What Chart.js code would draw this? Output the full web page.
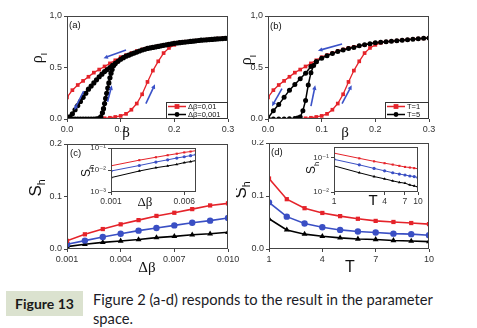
<!DOCTYPE html>
<html>
<head>
<meta charset="utf-8">
<script src="https://cdn.jsdelivr.net/npm/chart.js@4.4.1/dist/chart.umd.min.js"></script>
<style>
  body { margin: 0; background: #fff; width: 477px; height: 328px; position: relative; overflow: hidden; }
  canvas { position: absolute; }
  #figBox { position: absolute; left: 6px; top: 291px; width: 77px; height: 25px; background: #dbe2cf;
    font: bold 14px 'Lato', sans-serif; color: #1a1a1a; text-align: center; line-height: 25px; }
  #caption { position: absolute; left: 93px; top: 290px; font: 14.7px 'Lato', sans-serif; line-height: 18.5px; color: #1b1b26; }
</style>
</head>
<body>
<canvas id="chartA" width="236" height="140" style="left:0;top:0"></canvas>
<canvas id="chartB" width="241" height="140" style="left:236px;top:0"></canvas>
<canvas id="chartC" width="245" height="135" style="left:0;top:140px"></canvas>
<canvas id="chartD" width="241" height="135" style="left:236px;top:140px"></canvas>
<canvas id="insetC" width="120" height="65" style="left:80px;top:145px"></canvas>
<canvas id="insetD" width="125" height="65" style="left:300px;top:144px"></canvas>
<div id="figBox">Figure 13</div>
<div id="caption">Figure 2 (a-d) responds to the result in the parameter<br>space.</div>
<script>
// ---- data ----
const beta = [0, 0.01, 0.02, 0.03, 0.04, 0.05, 0.06, 0.07, 0.08, 0.09, 0.1, 0.11, 0.12, 0.13, 0.14, 0.15,
  0.16, 0.17, 0.18, 0.19, 0.2, 0.21, 0.22, 0.23, 0.24, 0.25, 0.26, 0.27, 0.28, 0.29, 0.3];
// red, dBeta = 0.01 / T = 1 : decreasing branch and increasing branch
const rhoRedDown = [0.21, 0.28, 0.33, 0.37, 0.41, 0.45, 0.48, 0.51, 0.54, 0.57, 0.6, 0.62, 0.64, 0.66, 0.675, 0.69,
  0.7, 0.71, 0.72, 0.73, 0.74, 0.745, 0.75, 0.755, 0.76, 0.765, 0.77, 0.775, 0.78, 0.783, 0.786];
const betaRedUp = [0.05, 0.06, 0.07, 0.08, 0.09, 0.1, 0.11, 0.12, 0.13, 0.14, 0.15, 0.16, 0.17, 0.18, 0.19, 0.2, 0.21];
const rhoRedUp = [0, 0.003, 0.007, 0.012, 0.02, 0.03, 0.05, 0.09, 0.15, 0.24, 0.36, 0.47, 0.56, 0.64, 0.69, 0.72, 0.74];

// black, dBeta = 0.001
const betaFine = [0, 0.005, 0.01, 0.015, 0.02, 0.025, 0.03, 0.035, 0.04, 0.045, 0.05, 0.055, 0.06, 0.065, 0.07, 0.075,
  0.08, 0.085, 0.09, 0.095, 0.1, 0.105, 0.11, 0.115, 0.12, 0.125, 0.13, 0.135, 0.14, 0.145, 0.15, 0.155, 0.16, 0.165,
  0.17, 0.175, 0.18, 0.185, 0.19, 0.195, 0.2, 0.205, 0.21, 0.215, 0.22, 0.225, 0.23, 0.235, 0.24, 0.245, 0.25, 0.255,
  0.26, 0.265, 0.27, 0.275, 0.28, 0.285, 0.29, 0.295, 0.3];
const rhoFineDown = [0, 0.02, 0.05, 0.09, 0.13, 0.17, 0.21, 0.25, 0.29, 0.32, 0.35, 0.38, 0.41, 0.435, 0.46, 0.48,
  0.5, 0.52, 0.54, 0.56, 0.58, 0.595, 0.61, 0.62, 0.63, 0.64, 0.65, 0.66, 0.67, 0.677, 0.685, 0.69, 0.695, 0.7,
  0.705, 0.71, 0.715, 0.72, 0.725, 0.73, 0.735, 0.738, 0.741, 0.744, 0.747, 0.75, 0.753, 0.756, 0.759, 0.762, 0.765, 0.767,
  0.769, 0.771, 0.773, 0.775, 0.777, 0.779, 0.781, 0.783, 0.785];
const betaFineUp = [0, 0.005, 0.01, 0.015, 0.02, 0.025, 0.03, 0.035, 0.04, 0.045, 0.05, 0.055, 0.06, 0.063, 0.066,
  0.068, 0.07, 0.072, 0.074, 0.076, 0.078, 0.08, 0.082, 0.084, 0.087];
const rhoFineUp = [0, 0, 0, 0, 0, 0, 0, 0, 0, 0, 0, 0.002, 0.006, 0.02, 0.06, 0.1, 0.15, 0.2, 0.25, 0.3, 0.35, 0.4,
  0.445, 0.48, 0.52];

// black, T = 5
const rhoT5Down = [0.01, 0.08, 0.14, 0.21, 0.28, 0.335, 0.39, 0.445, 0.51, 0.555, 0.59, 0.615, 0.635, 0.655, 0.67, 0.685,
  0.695, 0.71, 0.72, 0.73, 0.74, 0.745, 0.75, 0.755, 0.76, 0.765, 0.77, 0.775, 0.78, 0.783, 0.786];
const betaT5Up = [0, 0.01, 0.02, 0.03, 0.04, 0.05, 0.055, 0.06, 0.065, 0.07, 0.075, 0.08, 0.085, 0.09];
const rhoT5Up = [0, 0, 0, 0, 0.002, 0.006, 0.01, 0.02, 0.08, 0.18, 0.33, 0.45, 0.52, 0.555];

// arrows (data units: x1, y1, x2, y2, head at 2)
const arrowsA = [[0.11, 0.67, 0.068, 0.59], [0.031, 0.27, 0.0136, 0.087], [0.0755, 0.167, 0.0835, 0.327], [0.147, 0.15, 0.164, 0.337]];
const arrowsB = [[0.138, 0.728, 0.093, 0.663], [0.026, 0.295, 0.0075, 0.125], [0.08, 0.125, 0.088, 0.327], [0.138, 0.15, 0.156, 0.327]];

// panel (c): S_h vs dBeta
const dBeta = [0.001, 0.002, 0.003, 0.004, 0.005, 0.006, 0.007, 0.008, 0.009, 0.01];
const shRedC = [0.0155, 0.028, 0.038, 0.047, 0.055, 0.063, 0.069, 0.076, 0.083, 0.087];
const shBlueC = [0.009, 0.016, 0.023, 0.029, 0.035, 0.04, 0.045, 0.05, 0.054, 0.059];
const shBlackC = [0.0045, 0.009, 0.0127, 0.0153, 0.018, 0.0217, 0.024, 0.027, 0.029, 0.032];

// panel (d): S_h vs T
const tVals = [1, 2, 3, 4, 5, 6, 7, 8, 9, 10];
const shRedD = [0.133, 0.094, 0.077, 0.068, 0.062, 0.057, 0.053, 0.051, 0.049, 0.047];
const shBlueD = [0.088, 0.061, 0.048, 0.041, 0.036, 0.033, 0.031, 0.029, 0.028, 0.026];
const shBlackD = [0.057, 0.036, 0.028, 0.024, 0.021, 0.019, 0.018, 0.016, 0.015, 0.014];

const RED = '#e5232a', BLUE = '#3a4fc4', BLACK = '#000', ARROW = '#3b52c8';
const SANS = "'Liberation Sans', 'DejaVu Sans', sans-serif";
const SERIF = "'Liberation Serif', 'DejaVu Serif', serif";

const pts = (xs, ys) => xs.map((x, i) => ({ x: x, y: ys[i] }));
const sup = { '-1': '⁻¹', '-2': '⁻²', '-3': '⁻³' };

function drawLabel(ctx, t) {
  ctx.save();
  ctx.translate(t.x, t.y);
  if (t.rot) ctx.rotate(-Math.PI / 2);
  ctx.fillStyle = '#111';
  ctx.textBaseline = 'middle';
  ctx.textAlign = 'left';
  const fam = t.fam || SANS;
  const ss = t.size * 0.62;
  ctx.font = t.size + 'px ' + fam;
  const w1 = ctx.measureText(t.s).width;
  let w2 = 0;
  if (t.sub) {
    ctx.font = ss + 'px ' + SANS;
    w2 = ctx.measureText(t.sub).width;
  }
  const x0 = t.align === 'left' ? 0 : -(w1 + w2) / 2;
  ctx.font = t.size + 'px ' + fam;
  ctx.fillText(t.s, x0, 0);
  if (t.sub) {
    ctx.font = ss + 'px ' + SANS;
    ctx.fillText(t.sub, x0 + w1, t.size * 0.38);
  }
  ctx.restore();
}

function drawMarker(ctx, style, x, y, r) {
  ctx.beginPath();
  if (style === 'rect') ctx.rect(x - r, y - r, 2 * r, 2 * r);
  else if (style === 'triangle') { ctx.moveTo(x, y - r * 1.2); ctx.lineTo(x + r, y + r * 0.7); ctx.lineTo(x - r, y + r * 0.7); ctx.closePath(); }
  else ctx.arc(x, y, r, 0, Math.PI * 2);
  ctx.fill();
}

const deco = {
  id: 'deco',
  beforeDraw(chart, args, o) {
    if (!o.bg) return;
    const c = chart.chartArea, ctx = chart.ctx;
    ctx.save();
    ctx.fillStyle = '#fff';
    ctx.fillRect(c.left, c.top, c.right - c.left, c.bottom - c.top);
    ctx.restore();
  },
  afterDraw(chart, args, o) {
    const ctx = chart.ctx, c = chart.chartArea, sx = chart.scales.x, sy = chart.scales.y;
    ctx.save();
    // arrows
    ctx.strokeStyle = ARROW;
    ctx.fillStyle = ARROW;
    ctx.lineWidth = 1.6;
    (o.arrows || []).forEach(a => {
      const x1 = sx.getPixelForValue(a[0]), y1 = sy.getPixelForValue(a[1]);
      const x2 = sx.getPixelForValue(a[2]), y2 = sy.getPixelForValue(a[3]);
      const ang = Math.atan2(y2 - y1, x2 - x1), hl = 5;
      ctx.beginPath();
      ctx.moveTo(x1, y1);
      ctx.lineTo(x2 - Math.cos(ang) * hl * 0.8, y2 - Math.sin(ang) * hl * 0.8);
      ctx.stroke();
      ctx.beginPath();
      ctx.moveTo(x2, y2);
      ctx.lineTo(x2 - hl * Math.cos(ang - 0.45), y2 - hl * Math.sin(ang - 0.45));
      ctx.lineTo(x2 - hl * Math.cos(ang + 0.45), y2 - hl * Math.sin(ang + 0.45));
      ctx.closePath();
      ctx.fill();
    });
    // frame
    ctx.strokeStyle = '#444';
    ctx.lineWidth = 1;
    ctx.strokeRect(Math.round(c.left) + 0.5, Math.round(c.top) + 0.5, Math.round(c.right - c.left) - 1, Math.round(c.bottom - c.top) - 1);
    // legend
    if (o.legend) {
      const L = o.legend;
      ctx.fillStyle = '#fff';
      ctx.fillRect(L.x, L.y, L.w, L.h);
      ctx.strokeStyle = '#333';
      ctx.strokeRect(L.x + 0.5, L.y + 0.5, L.w - 1, L.h - 1);
      L.items.forEach((it, i) => {
        const ds = chart.data.datasets[it.ds];
        const yy = L.y + 4.5 + i * 8;
        ctx.strokeStyle = ds.borderColor;
        ctx.fillStyle = ds.borderColor;
        ctx.lineWidth = 1.5;
        ctx.beginPath();
        ctx.moveTo(L.x + 2, yy);
        ctx.lineTo(L.x + 20, yy);
        ctx.stroke();
        drawMarker(ctx, ds.pointStyle, L.x + 11, yy, 2.4);
        ctx.fillStyle = '#111';
        ctx.font = '7.5px ' + SANS;
        ctx.textBaseline = 'middle';
        ctx.textAlign = 'left';
        ctx.fillText(it.label, L.x + 22, yy + 0.5);
      });
    }
    ctx.restore();
    (o.texts || []).forEach(t => drawLabel(chart.ctx, t));
  }
};

function axis(opts) {
  return {
    type: opts.type || 'linear',
    min: opts.min,
    max: opts.max,
    border: { display: false },
    grid: { drawOnChartArea: false, drawTicks: true, tickLength: 3, color: '#444' },
    ticks: {
      font: { size: opts.fs || 9, family: SANS },
      color: '#333',
      padding: 2,
      maxRotation: 0,
      autoSkip: false,
      stepSize: opts.step,
      callback: opts.fmt
    },
    afterBuildTicks: opts.ticks ? (s => { s.ticks = opts.ticks.map(v => ({ value: v })); }) : undefined,
    afterFit: s => {
      if (opts.w !== undefined) s.width = opts.w;
      if (opts.h !== undefined) s.height = opts.h;
      s.paddingLeft = 0; s.paddingRight = 0; s.paddingTop = 0; s.paddingBottom = 0;
    }
  };
}

function series(data, color, style, r, bw) {
  return {
    data: data, borderColor: color, backgroundColor: color, pointBackgroundColor: color,
    pointBorderColor: color, pointStyle: style, pointRadius: r, pointBorderWidth: 0,
    borderWidth: bw, tension: 0, fill: false
  };
}

function make(id, datasets, scales, pad, deco_opts) {
  return new Chart(document.getElementById(id), {
    type: 'line',
    data: { datasets: datasets },
    options: {
      responsive: false, animation: false, devicePixelRatio: 1, events: [],
      layout: { padding: pad, autoPadding: false },
      scales: scales,
      plugins: { legend: { display: false }, tooltip: { enabled: false }, deco: deco_opts }
    },
    plugins: [deco]
  });
}

const fmt1 = v => (v === 1 ? '1,0' : v.toFixed(1));
const fmtLog = v => '10' + sup[Math.round(Math.log10(v))];

// (a)
make('chartA', [
  series(pts(betaFineUp, rhoFineUp), BLACK, 'circle', 2.6, 2),
  series(pts(betaFine, rhoFineDown), BLACK, 'circle', 2.6, 2),
  series(pts(betaRedUp, rhoRedUp), RED, 'rect', 2.6, 1.3),
  series(pts(beta, rhoRedDown), RED, 'rect', 2.6, 1.3)
], {
  x: axis({ min: 0, max: 0.3, step: 0.1, fmt: v => v.toFixed(1), h: 21 }),
  y: axis({ min: 0, max: 1, step: 0.5, fmt: fmt1, w: 67 })
}, { left: 0, top: 16, right: 8, bottom: 0 }, {
  arrows: arrowsA,
  legend: { x: 166, y: 102, w: 62, h: 17, items: [{ ds: 3, label: 'Δβ=0,01' }, { ds: 1, label: 'Δβ=0,001' }] },
  texts: [
    { s: 'ρ', sub: 'I', x: 38, y: 58, size: 16, fam: SERIF, rot: true },
    { s: 'β', x: 126, y: 133, size: 15, fam: SERIF },
    { s: '(a)', x: 69, y: 25, size: 9.5, align: 'left' }
  ]
});

// (b)
make('chartB', [
  series(pts(betaT5Up, rhoT5Up), BLACK, 'circle', 2.5, 1.5),
  series(pts(beta, rhoT5Down), BLACK, 'circle', 2.5, 1.5),
  series(pts(betaRedUp, rhoRedUp), RED, 'rect', 2.6, 1.3),
  series(pts(beta, rhoRedDown), RED, 'rect', 2.6, 1.3)
], {
  x: axis({ min: 0, max: 0.3, step: 0.1, fmt: v => v.toFixed(1), h: 21 }),
  y: axis({ min: 0, max: 1, step: 0.5, fmt: fmt1, w: 32 })
}, { left: 0, top: 16, right: 48, bottom: 0 }, {
  arrows: arrowsB,
  legend: { x: 149, y: 102, w: 44, h: 17, items: [{ ds: 3, label: 'T=1' }, { ds: 1, label: 'T=5' }] },
  texts: [
    { s: 'ρ', sub: 'I', x: 11, y: 60, size: 16, fam: SERIF, rot: true },
    { s: 'β', x: 109, y: 133, size: 15, fam: SERIF },
    { s: '(b)', x: 34, y: 26, size: 9.5, align: 'left' }
  ]
});

// (c)
make('chartC', [
  series(pts(dBeta, shRedC), RED, 'rect', 3, 1.6),
  series(pts(dBeta, shBlueC), BLUE, 'circle', 3.2, 1.6),
  series(pts(dBeta, shBlackC), BLACK, 'triangle', 3.4, 1.6)
], {
  x: axis({ min: 0.001, max: 0.01, ticks: [0.001, 0.004, 0.007, 0.01], fmt: v => v.toFixed(3), h: 26 }),
  y: axis({ min: 0, max: 0.2, step: 0.1, fmt: v => v.toFixed(1), w: 67 })
}, { left: 0, top: 4, right: 17, bottom: 0 }, {
  texts: [
    { s: 'S', sub: 'h', x: 36, y: 48, size: 17, rot: true },
    { s: 'Δβ', x: 147, y: 128, size: 15, fam: SERIF },
    { s: '(c)', x: 70, y: 13, size: 9.5, align: 'left' }
  ]
});

// (d)
make('chartD', [
  series(pts(tVals, shRedD), RED, 'rect', 3, 1.6),
  series(pts(tVals, shBlueD), BLUE, 'circle', 3.2, 1.6),
  series(pts(tVals, shBlackD), BLACK, 'triangle', 3.4, 1.6)
], {
  x: axis({ min: 1, max: 10, ticks: [1, 4, 7, 10], fmt: v => String(v), h: 26 }),
  y: axis({ min: 0, max: 0.2, step: 0.1, fmt: v => v.toFixed(1), w: 33 })
}, { left: 0, top: 3, right: 48, bottom: 0 }, {
  texts: [
    { s: 'S', sub: 'h', x: 5, y: 50, size: 17, rot: true },
    { s: 'T', x: 114, y: 128, size: 16 },
    { s: '(d)', x: 35, y: 12, size: 9.5, align: 'left' }
  ]
});

// inset (c): log-log
make('insetC', [
  series(pts(dBeta.slice(0, 8), shRedC.slice(0, 8)), RED, 'rect', 1.5, 1),
  series(pts(dBeta.slice(0, 8), shBlueC.slice(0, 8)), BLUE, 'circle', 1.6, 1),
  series(pts(dBeta.slice(0, 8), shBlackC.slice(0, 8)), BLACK, 'triangle', 1.7, 1)
], {
  x: axis({ type: 'logarithmic', min: 0.001, max: 0.008, ticks: [0.001, 0.006], fmt: v => v.toFixed(3), h: 18, fs: 8.5 }),
  y: axis({ type: 'logarithmic', min: 0.001, max: 0.1, ticks: [0.001, 0.01, 0.1], fmt: fmtLog, w: 31, fs: 8 })
}, { left: 0, top: 3, right: 4, bottom: 0 }, {
  bg: true,
  texts: [
    { s: 'S', sub: 'h', x: 7, y: 26, size: 12, rot: true },
    { s: 'Δβ', x: 65, y: 58, size: 13, fam: SERIF }
  ]
});

// inset (d): log-log
make('insetD', [
  series(pts(tVals, shRedD), RED, 'rect', 1.5, 1),
  series(pts(tVals, shBlueD), BLUE, 'circle', 1.6, 1),
  series(pts(tVals, shBlackD), BLACK, 'triangle', 1.7, 1)
], {
  x: axis({ type: 'logarithmic', min: 1, max: 10, ticks: [1, 4, 7, 10], fmt: v => String(v), h: 17, fs: 8.5 }),
  y: axis({ type: 'logarithmic', min: 0.01, max: 0.2, ticks: [0.01, 0.1], fmt: fmtLog, w: 34, fs: 8 })
}, { left: 0, top: 3, right: 7, bottom: 0 }, {
  bg: true,
  texts: [
    { s: 'S', sub: 'h', x: 12, y: 24, size: 12, rot: true },
    { s: 'T', x: 73, y: 57, size: 15 }
  ]
});
</script>
</body>
</html>
